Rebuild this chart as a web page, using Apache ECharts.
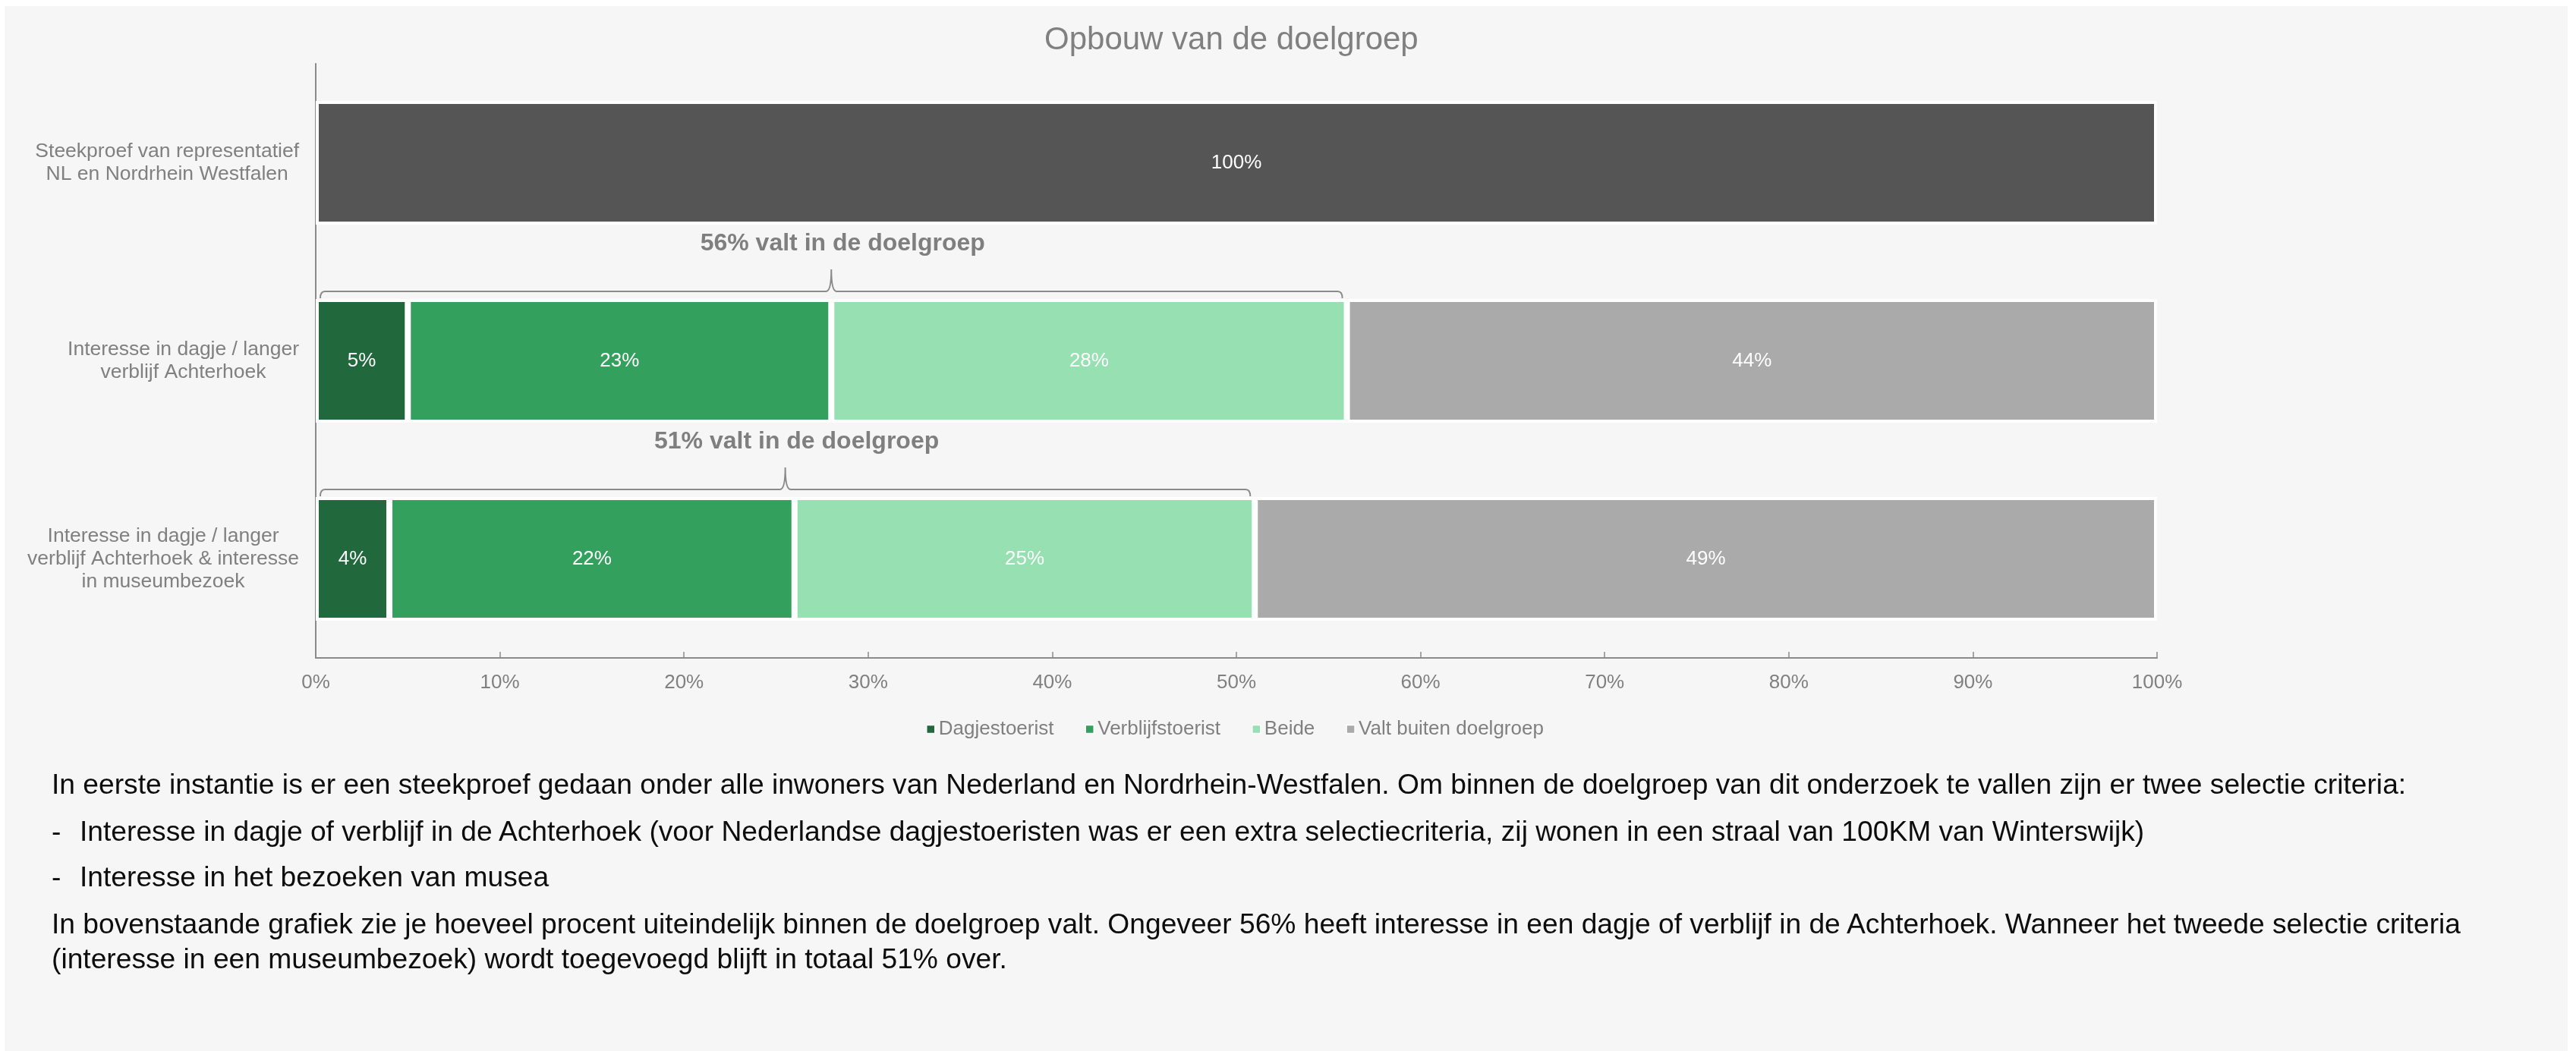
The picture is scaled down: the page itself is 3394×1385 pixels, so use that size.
<!DOCTYPE html>
<html>
<head>
<meta charset="utf-8">
<script src="https://cdn.jsdelivr.net/npm/echarts@6/dist/echarts.min.js"></script>
<style>
  html, body { margin: 0; padding: 0; background: #ffffff; }
  #panel { position: absolute; left: 6px; top: 8px; width: 3377px; height: 1377px; background: #f6f6f6; }
  #chart { position: absolute; left: 0; top: 0; width: 3394px; height: 1385px; }
  .txt { position: absolute; left: 68px; font-family: "Liberation Sans", Arial, sans-serif; font-size: 37.2px; line-height: 46px; color: #0d0d0d; white-space: pre; }
  .bullet { display: inline-block; width: 37px; }
</style>
</head>
<body>
<div id="panel"></div>
<div id="chart"></div>
<div class="txt" style="top:1010px">In eerste instantie is er een steekproef gedaan onder alle inwoners van Nederland en Nordrhein-Westfalen. Om binnen de doelgroep van dit onderzoek te vallen zijn er twee selectie criteria:</div>
<div class="txt" style="top:1072px"><span class="bullet">-</span>Interesse in dagje of verblijf in de Achterhoek (voor Nederlandse dagjestoeristen was er een extra selectiecriteria, zij wonen in een straal van 100KM van Winterswijk)</div>
<div class="txt" style="top:1132px"><span class="bullet">-</span>Interesse in het bezoeken van musea</div>
<div class="txt" style="top:1194px">In bovenstaande grafiek zie je hoeveel procent uiteindelijk binnen de doelgroep valt. Ongeveer 56% heeft interesse in een dagje of verblijf in de Achterhoek. Wanneer het tweede selectie criteria
(interesse in een museumbezoek) wordt toegevoegd blijft in totaal 51% over.</div>
<script>
// Rows of the chart, top to bottom
const categories = [
  'Steekproef van representatief\nNL en Nordrhein Westfalen',
  'Interesse in dagje / langer\nverblijf Achterhoek',
  'Interesse in dagje / langer\nverblijf Achterhoek & interesse\nin museumbezoek'
];

// Shares per row (percent)
const steekproef       = [100, '-', '-'];
const dagjestoerist    = ['-', 5, 4];
const verblijfstoerist = ['-', 23, 22];
const beide            = ['-', 28, 25];
const valtBuiten       = ['-', 44, 49];

const xTicks = { min: 0, max: 100, step: 10 };

// Rows that get a "valt in de doelgroep" brace (share = all three target-group segments)
const braceRows = [1, 2];

const FONT = '"Liberation Sans", Arial, sans-serif';
const GREY = '#808080';
const BAR_SHARE = 0.625;

const braceData = braceRows.map(r => {
  const total = dagjestoerist[r] + verblijfstoerist[r] + beide[r];
  return [0, total, r];
});

function braceItem(params, api) {
  const row = api.value(2);
  const total = api.value(1);
  const p0 = api.coord([api.value(0), row]);
  const p1 = api.coord([total, row]);
  const band = api.size([0, 1])[1];
  const y = p0[1] - band * BAR_SHARE / 2 - 10;
  const x0 = p0[0] + 6, x1 = p1[0] - 6;
  const xm = (x0 + x1) / 2;
  const h = 9, t = 29, r = 6, q = 7;
  const d = [
    'M', x0, y + h,
    'Q', x0, y, x0 + r, y,
    'L', xm - q, y,
    'Q', xm, y, xm, y - t,
    'Q', xm, y, xm + q, y,
    'L', x1 - r, y,
    'Q', x1, y, x1, y + h
  ].join(' ');
  return {
    type: 'group',
    children: [
      { type: 'path', shape: { pathData: d }, style: { stroke: '#8a8a8a', lineWidth: 2, fill: 'none' } },
      {
        type: 'text', x: xm + 15, y: y - 63,
        style: {
          text: Math.round(total) + '% valt in de doelgroep',
          font: 'bold 32px ' + FONT, fill: '#7f7f7f',
          align: 'center', verticalAlign: 'middle'
        }
      }
    ]
  };
}

const barLabel = {
  show: true, position: 'inside', color: '#ffffff',
  fontSize: 26, fontFamily: FONT, formatter: p => p.value + '%'
};

function barSeries(name, data, color) {
  return {
    name, type: 'bar', stack: 'share', data,
    barCategoryGap: ((1 - BAR_SHARE) * 100) + '%',
    itemStyle: { color, borderColor: '#ffffff', borderWidth: 4 },
    label: barLabel,
    emphasis: { disabled: true }
  };
}

const chart = echarts.init(document.getElementById('chart'), null, { renderer: 'canvas' });
chart.setOption({
  backgroundColor: 'transparent',
  animation: false,
  title: {
    text: 'Opbouw van de doelgroep',
    left: 1376, top: 32, padding: 0,
    textStyle: { fontSize: 42, fontWeight: 'normal', color: GREY, fontFamily: FONT }
  },
  legend: {
    data: ['Dagjestoerist', 'Verblijfstoerist', 'Beide', 'Valt buiten doelgroep'],
    left: 1215, top: 943, padding: 5,
    icon: 'rect', itemWidth: 11, itemHeight: 11, itemGap: 41,
    itemStyle: { borderColor: '#ffffff', borderWidth: 1.5 },
    textStyle: { fontSize: 26, color: GREY, fontFamily: FONT }
  },
  grid: { left: 416, right: 552, top: 84, bottom: 518, containLabel: false },
  xAxis: {
    type: 'value', min: xTicks.min, max: xTicks.max, interval: xTicks.step,
    axisLine: { show: true, lineStyle: { color: '#8a8a8a', width: 2 } },
    axisTick: { show: true, inside: true, length: 8, lineStyle: { color: '#8a8a8a', width: 1.5 } },
    splitLine: { show: false },
    axisLabel: { formatter: '{value}%', fontSize: 26, color: GREY, fontFamily: FONT, margin: 20 }
  },
  yAxis: {
    type: 'category', inverse: true, data: categories,
    axisLine: { show: true, lineStyle: { color: '#8a8a8a', width: 2 } },
    axisTick: { show: false },
    axisLabel: {
      interval: 0, margin: 22, align: 'right',
      formatter: v => v.split('\n').map(l => '{c|' + l + '}').join('\n'),
      rich: { c: { align: 'center', fontSize: 26.5, lineHeight: 30, color: GREY, fontFamily: FONT } }
    }
  },
  series: [
    barSeries('Steekproef', steekproef, '#555555'),
    barSeries('Dagjestoerist', dagjestoerist, '#21693c'),
    barSeries('Verblijfstoerist', verblijfstoerist, '#34a05d'),
    barSeries('Beide', beide, '#97e0b1'),
    barSeries('Valt buiten doelgroep', valtBuiten, '#aaaaaa'),
    {
      type: 'custom', name: 'doelgroep', data: braceData,
      encode: { x: [0, 1], y: 2 },
      renderItem: braceItem, clip: false, z: 5, silent: true
    }
  ]
});
</script>
</body>
</html>
